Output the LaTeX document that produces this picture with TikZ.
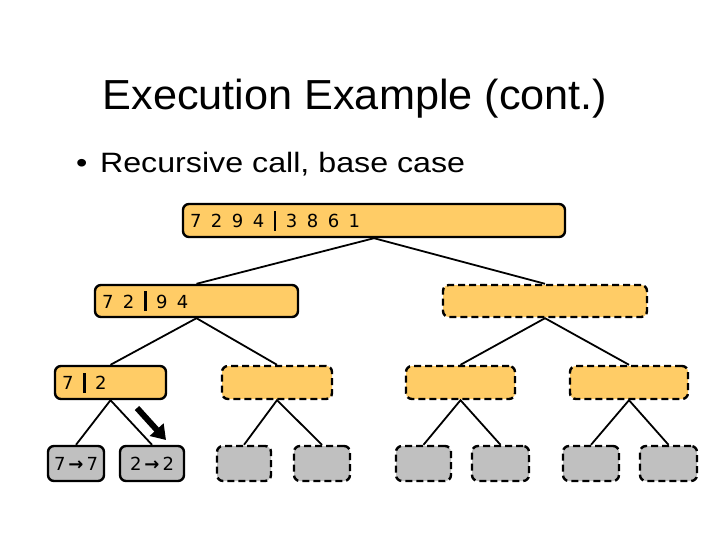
\documentclass[tikz,border=0pt]{standalone}
\usepackage{fontspec}
\setmainfont{Liberation Sans}
\newfontfamily\boxfont{DejaVu Sans}
\usepackage{tikz}
\usetikzlibrary{arrows.meta}
\usepackage{xcolor}
\definecolor{mergeorange}{RGB}{255, 204, 102}
\definecolor{basegray}{RGB}{192, 192, 192}
\newcommand{\splitbar}{\rule[-3pt]{2.6pt}{20pt}}
\newcommand{\dgap}{\hspace{9.5pt}}

\begin{document}
\begin{tikzpicture}[x=1pt, y=-1pt,
    seqbox/.style={draw, rounded corners=6pt, line width=2.4pt, fill=mergeorange,
        inner xsep=7pt, inner ysep=0pt, align=left, font=\boxfont\fontsize{18}{18}\selectfont},
    todobox/.style={seqbox, dash pattern=on 7pt off 4pt},
    leafbox/.style={draw, rounded corners=6pt, line width=2.4pt, fill=basegray,
        inner sep=0pt, minimum height=35, font=\boxfont\fontsize{18}{18}\selectfont},
    todoleaf/.style={leafbox, dash pattern=on 7pt off 4pt},
    treeedge/.style={line width=1.8pt}]
    \useasboundingbox[fill=white] (0,0) rectangle (720,540);

    % title and bullet
    \node[anchor=base, inner sep=0pt, font=\fontsize{42}{42}\selectfont] (title) at (355,110) {\scalebox{1.03}[1]{Execution Example (cont.)}};
    \node[anchor=base west, inner sep=0pt, font=\fontsize{28}{28}\selectfont] (bullet) at (76,173) {\scalebox{1.15}[1]{\textbullet\hspace{11pt}Recursive call, base case}};

    % sequences
    \node[seqbox, text width=368, minimum height=33] (root) at (374,220.5) {7\dgap2\dgap9\dgap4\dgap\splitbar\dgap3\dgap8\dgap6\dgap1};
    \node[seqbox, text width=189, minimum height=32] (l1a) at (196.5,301) {7\dgap2\dgap\splitbar\dgap9\dgap4};
    \node[todobox, text width=190, minimum height=32] (l1b) at (545,301) {};
    \node[seqbox, text width=97, minimum height=33] (l2a) at (110.5,382.5) {7\dgap\splitbar\dgap2};
    \node[todobox, text width=96, minimum height=33] (l2b) at (277,382.5) {};
    \node[todobox, text width=95, minimum height=33] (l2c) at (460.5,382.5) {};
    \node[todobox, text width=104, minimum height=33] (l2d) at (629,382.5) {};

    % base cases
    \node[leafbox, minimum width=56] (l3a) at (76,463.5) {7\,{\bfseries →}\,7};
    \node[leafbox, minimum width=64] (l3b) at (152,463.5) {2\,{\bfseries →}\,2};
    \node[todoleaf, minimum width=54] (l3c) at (244,463.5) {};
    \node[todoleaf, minimum width=56] (l3d) at (322,463.5) {};
    \node[todoleaf, minimum width=55] (l3e) at (423.5,463.5) {};
    \node[todoleaf, minimum width=57] (l3f) at (500.5,463.5) {};
    \node[todoleaf, minimum width=56] (l3g) at (591,463.5) {};
    \node[todoleaf, minimum width=57] (l3h) at (668.5,463.5) {};

    % tree
    \draw[treeedge] (l1a.north) -- (root.south) -- (l1b.north);
    \draw[treeedge] (l2a.north) -- (l1a.south) -- (l2b.north);
    \draw[treeedge] (l2c.north) -- (l1b.south) -- (l2d.north);
    \draw[treeedge] (l3a.north) -- (l2a.south) -- (l3b.north);
    \draw[treeedge] (l3c.north) -- (l2b.south) -- (l3d.north);
    \draw[treeedge] (l3e.north) -- (l2c.south) -- (l3f.north);
    \draw[treeedge] (l3g.north) -- (l2d.south) -- (l3h.north);

    % step arrow
    \coordinate (stepfrom) at (137,408);
    \coordinate (stepto) at (166,440);
    \draw[line width=6pt, -{Triangle[length=14pt, width=18pt]}] (stepfrom) -- (stepto);
\end{tikzpicture}
\end{document}
